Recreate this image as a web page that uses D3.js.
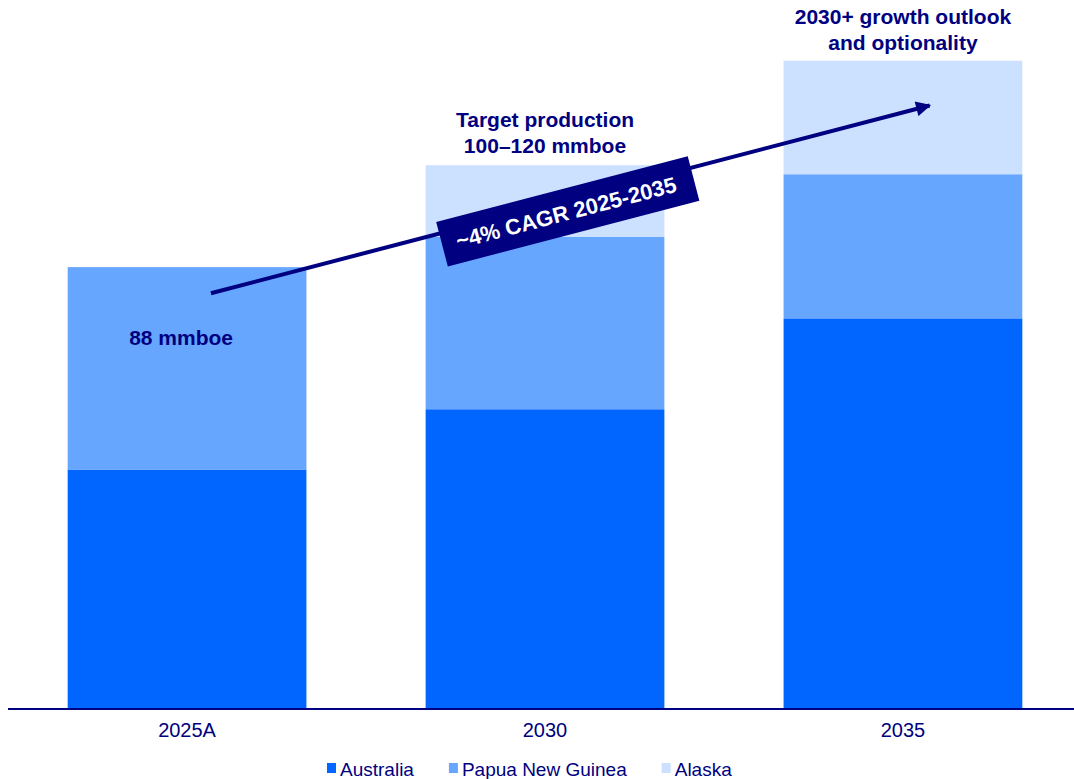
<!DOCTYPE html>
<html>
<head>
<meta charset="utf-8">
<script src="https://cdn.jsdelivr.net/npm/d3@7/dist/d3.min.js"></script>
<style>
  html, body { margin: 0; padding: 0; background: #ffffff; }
  svg { display: block; font-family: "Liberation Sans", Arial, sans-serif; }
</style>
</head>
<body>
<svg id="chart" width="1074" height="779"></svg>
<script>
// Production outlook, mmboe, stacked by region
const years = ["2025A", "2030", "2035"];
const regions = ["Australia", "Papua New Guinea", "Alaska"];
const australia = [47.7, 59.7, 77.8];
const papuaNewGuinea = [40.3, 34.3, 28.7];
const alaska = [0, 14.3, 22.6];
const regionColors = ["#0066ff", "#66a6ff", "#cce0ff"];

const navy = "#000080";
const width = 1074, height = 779;
const baseY = 709;

const svg = d3.select("#chart");

const x = d3.scaleBand()
  .domain(years)
  .range([8, 1082])
  .paddingInner(0.333)
  .paddingOuter(0.1667);

const y = d3.scaleLinear()
  .domain([0, 141.2])
  .range([baseY, 0]);

const color = d3.scaleOrdinal().domain(regions).range(regionColors);

const rows = years.map((yr, i) => ({
  year: yr,
  "Australia": australia[i],
  "Papua New Guinea": papuaNewGuinea[i],
  "Alaska": alaska[i]
}));

const stacked = d3.stack().keys(regions)(rows);

// Stacked bars
svg.append("g")
  .selectAll("g")
  .data(stacked)
  .join("g")
  .attr("fill", d => color(d.key))
  .selectAll("rect")
  .data(d => d)
  .join("rect")
  .attr("x", d => x(d.data.year))
  .attr("width", x.bandwidth())
  .attr("y", d => y(d[1]))
  .attr("height", d => Math.max(0, y(d[0]) - y(d[1])));

// Category axis
const xAxis = svg.append("g")
  .attr("transform", `translate(0,${baseY})`)
  .call(d3.axisBottom(x).tickSize(0).tickPadding(14));
xAxis.select(".domain").remove();
xAxis.selectAll("text")
  .attr("fill", navy)
  .attr("font-size", 20)
  .attr("font-family", "Liberation Sans, Arial, sans-serif")
  .attr("dy", "0.71em");

svg.append("line")
  .attr("x1", 8).attr("x2", width)
  .attr("y1", baseY).attr("y2", baseY)
  .attr("stroke", navy).attr("stroke-width", 2);

// Annotations above / inside the bars
const totals = rows.map(r => regions.reduce((s, k) => s + r[k], 0));
function note(lines, xc, firstBaseline) {
  const t = svg.append("text")
    .attr("text-anchor", "middle")
    .attr("fill", navy)
    .attr("font-weight", "bold")
    .attr("font-size", 21);
  lines.forEach((ln, i) => {
    t.append("tspan").attr("x", xc).attr("y", firstBaseline + i * 26).text(ln);
  });
}
note(["88 mmboe"], x("2025A") + x.bandwidth() * 0.475, 345);
note(["Target production", "100–120 mmboe"], x("2030") + x.bandwidth() / 2, y(totals[1]) - 38);
note(["2030+ growth outlook", "and optionality"], x("2035") + x.bandwidth() / 2, y(totals[2]) - 37);

// Growth arrow
const arrowFrom = { year: "2025A", frac: 0.60, value: 82.8 };
const arrowTo = { year: "2035", frac: 0.62, value: 120.3 };
const ax1 = x(arrowFrom.year) + x.bandwidth() * arrowFrom.frac, ay1 = y(arrowFrom.value);
const ax2 = x(arrowTo.year) + x.bandwidth() * arrowTo.frac, ay2 = y(arrowTo.value);

svg.append("defs").append("marker")
  .attr("id", "head")
  .attr("viewBox", "0 0 10 10")
  .attr("refX", 9).attr("refY", 5)
  .attr("markerUnits", "userSpaceOnUse")
  .attr("markerWidth", 18).attr("markerHeight", 15)
  .attr("orient", "auto")
  .append("path")
  .attr("d", "M0,0 L10,5 L0,10 Z")
  .attr("fill", navy);

svg.append("line")
  .attr("x1", ax1).attr("y1", ay1)
  .attr("x2", ax2 - 2).attr("y2", ay2 + 0.5)
  .attr("stroke", navy)
  .attr("stroke-width", 4)
  .attr("marker-end", "url(#head)");

// CAGR badge laid along the arrow
const angle = Math.atan2(ay2 - ay1, ax2 - ax1) * 180 / Math.PI;
const bx = 565;
const by = ay1 + (bx - ax1) * (ay2 - ay1) / (ax2 - ax1);
const badge = svg.append("g")
  .attr("transform", `translate(${bx},${by}) rotate(${angle}) translate(0,11)`);
badge.append("rect")
  .attr("x", -130).attr("y", -23)
  .attr("width", 260).attr("height", 46)
  .attr("fill", navy);
badge.append("text")
  .attr("text-anchor", "middle")
  .attr("x", -2)
  .attr("y", 8.5)
  .attr("fill", "#ffffff")
  .attr("font-weight", "bold")
  .attr("font-size", 22)
  .text("~4% CAGR 2025-2035");

// Legend
const legend = svg.append("g").attr("transform", "translate(327,0)");
let lx = 0;
regions.forEach(r => {
  const item = legend.append("g").attr("transform", `translate(${lx},0)`);
  item.append("rect")
    .attr("x", 0).attr("y", 763)
    .attr("width", 9).attr("height", 10)
    .attr("fill", color(r));
  const t = item.append("text")
    .attr("x", 13).attr("y", 775.5)
    .attr("fill", navy)
    .attr("font-size", 19)
    .text(r);
  lx += 13 + t.node().getComputedTextLength() + 35;
});
</script>
</body>
</html>
